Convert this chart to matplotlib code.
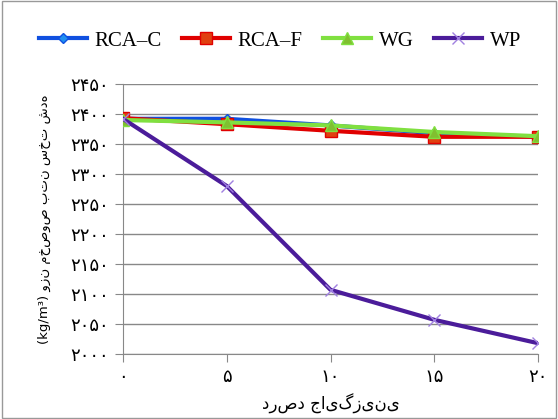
import matplotlib
matplotlib.use("Agg")
import matplotlib.pyplot as plt
from matplotlib.patches import Rectangle

x_vals = [0, 5, 10, 15, 20]
x_labels = ["۰", "۵", "۱۰", "۱۵", "۲۰"]
rca_c = [2392, 2392, 2381, 2368, 2362]
rca_f = [2393, 2383, 2372, 2362, 2362]
wg = [2390, 2386, 2381, 2370, 2363]
wp = [2392, 2280, 2107, 2057, 2018]
y_ticks = [2000, 2050, 2100, 2150, 2200, 2250, 2300, 2350, 2400, 2450]
y_labels = ["۲۰۰۰", "۲۰۵۰", "۲۱۰۰", "۲۱۵۰", "۲۲۰۰", "۲۲۵۰", "۲۳۰۰", "۲۳۵۰", "۲۴۰۰", "۲۴۵۰"]

fig = plt.figure(figsize=(5.58, 4.19), dpi=100)
ax = fig.add_axes([123/558, 1-354/419, (538-123)/558, (354-84)/419])

ax.plot(x_vals, rca_c, color="#1050E0", lw=3, marker="D", ms=5, mfc="#2090F0", mec="#1050E0", label="RCA–C", zorder=3)
ax.plot(x_vals, rca_f, color="#E00000", lw=3, marker="s", ms=8, mfc="#E04010", mec="#E00000", label="RCA–F", zorder=4)
ax.plot(x_vals, wg, color="#80E040", lw=3, marker="^", ms=8, mfc="#80C030", mec="#80E040", label="WG", zorder=5)
ax.plot(x_vals, wp, color="#4B1C9A", lw=3, marker="x", ms=9, mec="#A080E0", mew=1, label="WP", zorder=6)

ax.set_xlim(0, 20)
ax.set_ylim(2000, 2450)
ax.set_xticks(x_vals)
ax.set_xticklabels(x_labels, fontsize=13)
ax.set_yticks(y_ticks)
ax.set_yticklabels(y_labels, fontsize=13)
ax.grid(axis="y", color="#888888", lw=1)
ax.set_axisbelow(True)
for s in ["top", "right"]:
    ax.spines[s].set_visible(False)
for s in ["left", "bottom"]:
    ax.spines[s].set_color("#888888")
ax.tick_params(color="#888888", length=6, pad=4)

ax.set_xlabel("درصد جایگزینی", fontsize=12, labelpad=6)
ax.set_ylabel("(kg/m³) وزن مخصوص بتن سخت شده", fontsize=9.5, labelpad=14)

leg = fig.legend(loc="center", bbox_to_anchor=(280/558, 1 - 41/419), ncol=4, frameon=False,
                 prop={"family": "Liberation Serif", "size": 15}, handlelength=2.3,
                 columnspacing=1.0, handletextpad=0.35)

fig.patches.append(Rectangle((0.003, 0.003), 0.994, 0.994, transform=fig.transFigure,
                             fill=False, edgecolor="#999999", lw=1))
fig.savefig("out.png", dpi=100)
